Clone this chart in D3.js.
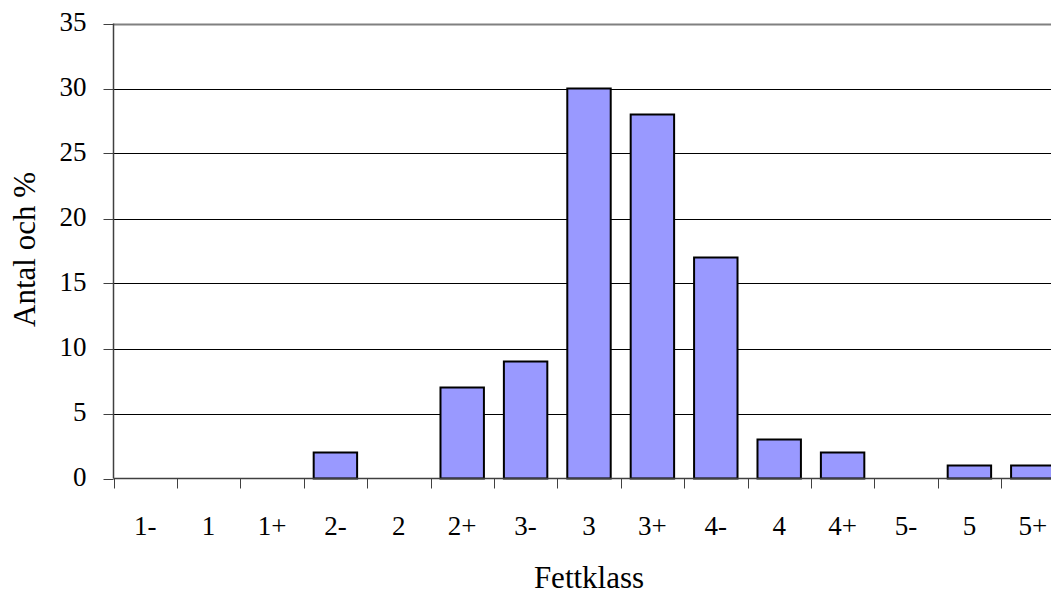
<!DOCTYPE html>
<html>
<head>
<meta charset="utf-8">
<script src="https://cdn.jsdelivr.net/npm/d3@7"></script>
<style>
  body { margin: 0; background: #fff; }
  svg { display: block; }
  text { font-family: "Liberation Serif", "Times New Roman", serif; fill: #000; }
</style>
</head>
<body>
<div id="chart"></div>
<script>
const categories = ["1-", "1", "1+", "2-", "2", "2+", "3-", "3", "3+", "4-", "4", "4+", "5-", "5", "5+"];
const values = [0, 0, 0, 2, 0, 7, 9, 30, 28, 17, 3, 2, 0, 1, 1];
const yTicks = [0, 5, 10, 15, 20, 25, 30, 35];

const width = 1051, height = 596;
const plot = { left: 113.5, right: 1064.5, top: 23.5, bottom: 478.5 };

const svg = d3.select("#chart").append("svg")
    .attr("width", width)
    .attr("height", height);

const x = d3.scaleBand().domain(categories).range([plot.left, plot.right]).paddingInner(0.315).paddingOuter(0.1575);
const xEdge = d3.scaleLinear().domain([0, categories.length]).range([plot.left, plot.right]);
const y = d3.scaleLinear().domain([0, 35]).range([plot.bottom, plot.top]);

// gridlines
svg.append("g").selectAll("line")
    .data(yTicks.filter(d => d > 0))
    .join("line")
    .attr("x1", plot.left).attr("x2", plot.right)
    .attr("y1", d => Math.round(y(d)) + 0.5).attr("y2", d => Math.round(y(d)) + 0.5)
    .attr("stroke", d => d === 35 ? "#808080" : "#000")
    .attr("stroke-width", d => d === 35 ? 2 : 1);

// bars
svg.append("g").selectAll("rect")
    .data(values)
    .join("rect")
    .attr("x", (d, i) => x(categories[i]))
    .attr("width", x.bandwidth())
    .attr("y", d => y(d))
    .attr("height", d => y(0) - y(d))
    .attr("fill", "#9999ff")
    .attr("stroke", "#000")
    .attr("stroke-width", 2);

// y axis
svg.append("line")
    .attr("x1", plot.left).attr("x2", plot.left).attr("y1", plot.top).attr("y2", plot.bottom)
    .attr("stroke", "#404040").attr("stroke-width", 1.5);
svg.append("g").selectAll("line")
    .data(yTicks)
    .join("line")
    .attr("x1", plot.left - 10).attr("x2", plot.left)
    .attr("y1", d => Math.round(y(d)) + 0.5).attr("y2", d => Math.round(y(d)) + 0.5)
    .attr("stroke", "#404040");
svg.append("g").selectAll("text")
    .data(yTicks)
    .join("text")
    .attr("x", plot.left - 27)
    .attr("y", d => y(d) + 7)
    .attr("text-anchor", "end")
    .style("font-size", "27px")
    .text(d => d);

// x axis
svg.append("line")
    .attr("x1", plot.left).attr("x2", plot.right).attr("y1", plot.bottom).attr("y2", plot.bottom)
    .attr("stroke", "#404040").attr("stroke-width", 1.5);
svg.append("g").selectAll("line")
    .data(d3.range(categories.length + 1))
    .join("line")
    .attr("x1", d => Math.round(xEdge(d)) + 0.5).attr("x2", d => Math.round(xEdge(d)) + 0.5)
    .attr("y1", plot.bottom).attr("y2", plot.bottom + 10)
    .attr("stroke", "#404040");
svg.append("g").selectAll("text")
    .data(categories)
    .join("text")
    .attr("x", d => x(d) + x.bandwidth() / 2)
    .attr("y", 535)
    .attr("text-anchor", "middle")
    .style("font-size", "27px")
    .text(d => d);

// axis titles
svg.append("text")
    .attr("x", (plot.left + plot.right) / 2)
    .attr("y", 588)
    .attr("text-anchor", "middle")
    .style("font-size", "31px")
    .text("Fettklass");
svg.append("text")
    .attr("transform", `translate(35, 249.5) rotate(-90)`)
    .attr("text-anchor", "middle")
    .style("font-size", "31px")
    .text("Antal och %");
</script>
</body>
</html>
